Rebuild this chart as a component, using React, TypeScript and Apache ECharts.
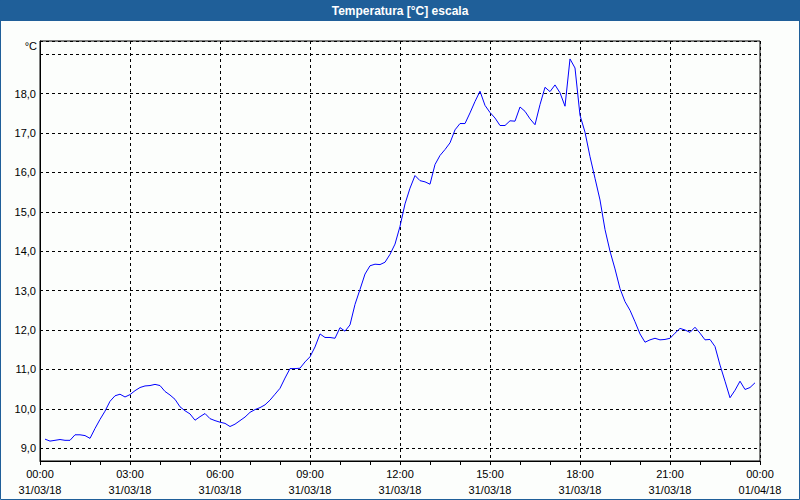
import React, { useEffect, useRef } from "react";
import * as echarts from "echarts";

const TITLE = "Temperatura [°C] escala";
const UNIT = "°C";
// first sample at 00:10, one sample every 10 minutes (hours since 31/03/18 00:00)
const START_HOUR = 10 / 60;
const STEP_HOURS = 10 / 60;
const temperatures = [
  9.23, 9.18, 9.2, 9.22, 9.2, 9.2, 9.34, 9.34, 9.32, 9.25, 9.5, 9.73,
  9.94, 10.19, 10.33, 10.37, 10.3, 10.36, 10.46, 10.54, 10.58, 10.59, 10.62, 10.59,
  10.44, 10.35, 10.24, 10.05, 9.95, 9.87, 9.71, 9.8, 9.88, 9.75, 9.7, 9.66,
  9.63, 9.55, 9.61, 9.7, 9.79, 9.91, 9.98, 10.03, 10.1, 10.22, 10.37, 10.52,
  10.78, 11.02, 11.02, 11.03, 11.19, 11.32, 11.57, 11.9, 11.81, 11.81, 11.79, 12.06,
  11.97, 12.13, 12.65, 13.03, 13.42, 13.63, 13.67, 13.66, 13.72, 13.92, 14.18, 14.63,
  15.2, 15.6, 15.92, 15.79, 15.76, 15.7, 16.2, 16.43, 16.58, 16.75, 17.08, 17.24,
  17.24, 17.51, 17.8, 18.06, 17.7, 17.52, 17.38, 17.19, 17.19, 17.31, 17.3, 17.66,
  17.55, 17.36, 17.21, 17.72, 18.16, 18.05, 18.22, 18.02, 17.68, 18.88, 18.65, 17.45,
  17.02, 16.4, 15.85, 15.3, 14.55, 14.0, 13.55, 13.05, 12.72, 12.5, 12.21, 11.9,
  11.69, 11.75, 11.79, 11.75, 11.76, 11.79, 11.92, 12.04, 12.0, 11.94, 12.07, 11.92,
  11.75, 11.76, 11.58, 11.11, 10.7, 10.28, 10.47, 10.7, 10.49, 10.54, 10.66,
];
const DAY_LABELS = ["31/03/18", "01/04/18"];
const Y_MIN = 8.675;
const Y_MAX = 19.335;
const Y_HIDDEN_LABEL = 19;

const FRAME_BLUE = "#1f5f99";
const FONT = "Liberation Sans";

export default function App() {
  const ref = useRef<HTMLDivElement>(null);
  useEffect(() => {
    const chart = echarts.init(ref.current!, null, { renderer: "svg" });
    const data = temperatures.map((v, i) => [START_HOUR + i * STEP_HOURS, v]);
    const pad = (n: number) => (n < 10 ? "0" + n : "" + n);
    chart.setOption({
      animation: false,
      backgroundColor: "#fcfefc",
      textStyle: { fontFamily: FONT },
      graphic: [
        {
          type: "rect",
          silent: true,
          shape: { x: 0, y: 0, width: 800, height: 21 },
          style: { fill: FRAME_BLUE },
        },
        {
          type: "text",
          x: 400,
          y: 11,
          silent: true,
          style: {
            text: TITLE,
            fill: "#ffffff",
            fontFamily: FONT,
            fontWeight: "bold",
            fontSize: 12,
            align: "center",
            verticalAlign: "middle",
          },
        },
        {
          type: "rect",
          silent: true,
          shape: { x: 0.5, y: 0.5, width: 799, height: 499 },
          style: { fill: "none", stroke: FRAME_BLUE, lineWidth: 1 },
        },
        {
          type: "text",
          x: 37,
          y: 46,
          silent: true,
          style: {
            text: UNIT,
            fill: "#000000",
            fontFamily: FONT,
            fontSize: 11,
            align: "right",
            verticalAlign: "middle",
          },
        },
      ],
      grid: {
        left: 40,
        right: 40,
        top: 41,
        bottom: 39,
        show: true,
        borderColor: "#000000",
        borderWidth: 1,
        backgroundColor: "transparent",
      },
      xAxis: {
        type: "value",
        min: 0,
        max: 24,
        interval: 3,
        axisLine: { show: true, lineStyle: { color: "#000000", width: 1 } },
        axisTick: { show: true, length: 4, lineStyle: { color: "#000000" } },
        minorTick: { show: true, splitNumber: 3, length: 4, lineStyle: { color: "#000000" } },
        splitLine: { show: true, lineStyle: { color: "#000000", type: [3, 3], width: 1 } },
        axisLabel: {
          color: "#000000",
          fontSize: 11,
          lineHeight: 16,
          margin: 5,
          formatter: (v: number) => {
            const h = Math.round(v);
            return pad(h % 24) + ":00\n" + (h < 24 ? DAY_LABELS[0] : DAY_LABELS[1]);
          },
        },
      },
      yAxis: {
        type: "value",
        min: Y_MIN,
        max: Y_MAX,
        minInterval: 1,
        maxInterval: 1,
        axisLine: { show: true, lineStyle: { color: "#000000", width: 1 } },
        axisTick: { show: false },
        splitLine: { show: true, lineStyle: { color: "#000000", type: [3, 3], width: 1 } },
        axisLabel: {
          color: "#000000",
          fontSize: 11,
          margin: 4,
          showMinLabel: false,
          showMaxLabel: false,
          formatter: (v: number) => {
            if (Math.abs(v - Math.round(v)) > 1e-6) return "";
            if (Math.round(v) === Y_HIDDEN_LABEL) return "";
            return v.toFixed(1).replace(".", ",");
          },
        },
      },
      series: [
        {
          type: "line",
          data,
          symbol: "none",
          showSymbol: false,
          lineStyle: { color: "#0000ff", width: 1 },
          z: 3,
        },
      ],
    });
    return () => chart.dispose();
  }, []);
  return (
    <div
      ref={ref}
      style={{ position: "absolute", left: 0, top: 0, width: 800, height: 500 }}
    />
  );
}
